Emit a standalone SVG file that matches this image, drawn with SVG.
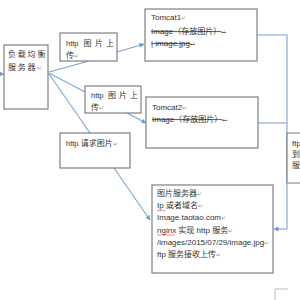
<svg xmlns="http://www.w3.org/2000/svg" width="300" height="300" viewBox="0 0 300 300">
<defs>
<marker id="ah" viewBox="0 0 6 6" refX="5.5" refY="3" markerWidth="5" markerHeight="5" markerUnits="userSpaceOnUse" orient="auto">
<path d="M0,0 L6,3 L0,6 z" fill="#6f9bd1"/>
</marker>
<style>
.box{fill:#fff;stroke:#7f7f7f;stroke-width:1.2}
.c{fill:none;stroke:#7aa3d6;stroke-width:1.1}
.a{marker-end:url(#ah)}
text{font-family:"Liberation Sans","Noto Sans CJK SC",sans-serif;font-size:8px;fill:#333}
.m{font-size:6px;fill:#999}
.s{text-decoration:line-through}
.sq{fill:none;stroke:#e03030;stroke-width:0.6}
</style>
</defs>
<rect width="300" height="300" fill="#fff"/>
<g id="connectors">
<line class="c a" x1="-2" y1="74" x2="4" y2="74"/>
<line class="c" x1="49" y1="72" x2="89" y2="61"/>
<line class="c a" x1="117" y1="52" x2="144" y2="44"/>
<line class="c" x1="49" y1="73" x2="85" y2="92"/>
<line class="c a" x1="127" y1="113" x2="146" y2="123"/>
<line class="c" x1="49" y1="74" x2="90" y2="133"/>
<line class="c a" x1="114" y1="168" x2="150" y2="220"/>
<polyline class="c" points="257,35 287,35 287,229"/>
<line class="c" x1="258" y1="123" x2="287" y2="123"/>
<polyline class="c a" points="287,229 274,229"/>
</g>
<g id="lb">
<rect class="box" x="4" y="45" width="44" height="64"/>
<text x="8" y="57" letter-spacing="1.8">负载均衡</text>
<text x="8" y="70" letter-spacing="1.8">服务器<tspan class="m" letter-spacing="0">↵</tspan></text>
</g>
<g id="up1">
<rect class="box" x="60" y="33" width="57" height="28"/>
<text x="66" y="46"><tspan font-size="7.5">http</tspan> <tspan x="83.5">图</tspan><tspan x="95">片</tspan><tspan x="106">上</tspan></text>
<text x="66" y="58">传<tspan class="m">↵</tspan></text>
</g>
<g id="up2">
<rect class="box" x="85" y="86" width="56" height="27"/>
<text x="91" y="98"><tspan font-size="7.5">http</tspan> <tspan x="108">图</tspan><tspan x="119">片</tspan><tspan x="130">上</tspan></text>
<text x="91" y="110">传<tspan class="m">↵</tspan></text>
</g>
<g id="req">
<rect class="box" x="60" y="133" width="70" height="35"/>
<text x="66" y="146"><tspan font-size="7.5">http</tspan> 请求图片<tspan class="m">↵</tspan></text>
</g>
<g id="tomcat1">
<rect class="box" x="145" y="9" width="112" height="52"/>
<text x="151" y="20">Tomcat1<tspan class="m">↵</tspan></text>
<text x="151" y="34" class="s">Image（存放图片）<tspan class="m">↵</tspan></text>
<text x="151" y="46" class="s">| image.jpg<tspan class="m">↵</tspan></text>
</g>
<g id="tomcat2">
<rect class="box" x="146" y="97" width="112" height="51"/>
<text x="152" y="110">Tomcat2<tspan class="m">↵</tspan></text>
<text x="152" y="122" class="s">Image（存放图片）<tspan class="m">↵</tspan></text>
</g>
<g id="ftp">
<polyline class="box" points="300,133 287,133 287,183 300,183" fill="none"/>
<text x="292" y="146">ftp</text>
<text x="292" y="157">到</text>
<text x="292" y="168">服</text>
</g>
<g id="imgserver">
<rect class="box" x="152" y="185" width="121" height="88"/>
<text x="157" y="196">图片服务器<tspan class="m">↵</tspan></text>
<text x="157" y="208.2">Ip 或者域名<tspan class="m">↵</tspan></text>
<path class="sq" d="M157,210.5 q1,-1 2,0 t2,0 t2,0 t2,0"/>
<text x="157" y="220.4" font-size="7.5">Image.taotao.com<tspan class="m">↵</tspan></text>
<text x="157" y="232.6">nginx 实现 http 服务<tspan class="m">↵</tspan></text>
<path class="sq" d="M157,235 q1,-1 2,0 t2,0 t2,0 t2,0 t2,0 t2,0 t2,0 t2,0 t2,0"/>
<text x="157" y="244.8" font-size="7.5">/images/2015/07/29/image.jpg<tspan class="m">↵</tspan></text>
<text x="157" y="257">ftp 服务接收上传<tspan class="m">↵</tspan></text>
</g>
<polyline points="288,289 275,289 275,300" fill="none" stroke="#bbb" stroke-width="1"/>
</svg>
